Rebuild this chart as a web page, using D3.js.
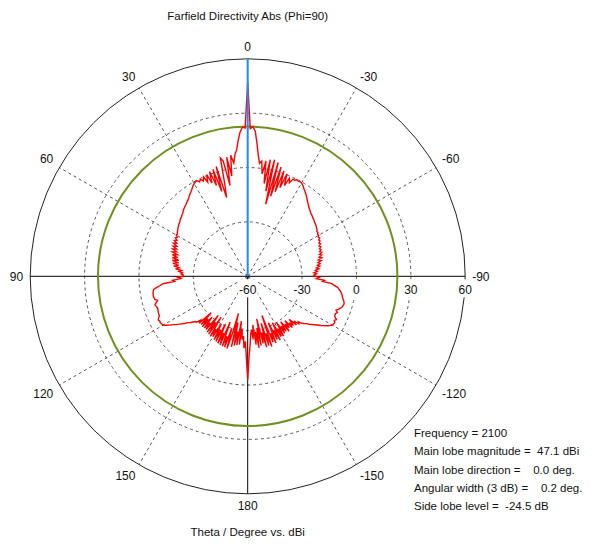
<!DOCTYPE html>
<html>
<head>
<meta charset="utf-8">
<script src="https://cdn.jsdelivr.net/npm/d3@7"></script>
<style>
  html, body { margin: 0; padding: 0; background: #fff; }
  svg { display: block; font-family: "Liberation Sans", Arial, sans-serif; }
  text { fill: #111; }
</style>
</head>
<body>
<svg id="chart" width="595" height="547"></svg>
<script>
// Farfield directivity cut (Phi = 90), theta in degrees, directivity in dBi
const thetaStart = -180;   // first sample angle
const thetaStep = 1;       // degrees between samples

// directivity [dBi], theta = -180 ... 180
const directivity = [
  // -180 .. -131
  -3, -16, -22, -28, -30.5, -25, -33, -22, -29, -20,
  -31, -21, -36, -22, -28, -19.5, -33, -20, -27, -19,
  -37, -21, -26, -20, -32, -21.5, -27, -20.5, -31, -22,
  -26.5, -21.5, -30, -22.5, -27, -23, -29, -22, -26.5, -23.5,
  -28, -22.5, -25.5, -23, -27, -22, -24.5, -21.5, -22.5, -20.5,
  // -130 .. -91
  -19.5, -18.5, -17, -15.8, -14.5, -13.1, -11.5, -10, -8.5, -7.2,
  -6.2, -5.8, -5.6, -6.4, -5.5, -6.8, -7.4, -7.3, -6.6, -7.8,
  -6.8, -5.9, -5.2, -4.9, -4.7, -5.0, -5.5, -6.2, -6.6, -7.0,
  -7.6, -8.3, -9.2, -10, -12, -13.5, -18.5, -17.5, -22, -20.5,
  // -90 .. -51
  -22.5, -23.5, -22, -23.4, -21.5, -22.5, -20.5, -21.8, -19.8, -21,
  -19.5, -20.5, -18.5, -20, -17.8, -19.2, -17.5, -18.6, -17, -18,
  -17, -17.6, -16.5, -17.2, -16, -16.6, -15.6, -16, -15, -15.5,
  -14.8, -15, -14.3, -14.5, -13.9, -13.6, -13.2, -13.0, -12.7, -12.6,
  // -50 .. -1
  -12.2, -11.8, -11.7, -11.3, -11.0, -10.8, -10.2, -9.8, -9.3, -8.8,
  -8.0, -7.4, -6.6, -5.8, -5.0, -4.2, -3.5, -2.8, -2.0, -1.2,
  -0.5, -0.3, -0.6, -0.2, -1.0, -0.8, -3.5, -1.2, -6, 0.5,
  -8, 1.5, -11, 3, -14, 5, -19, 6, -12, 5.5,
  -8, 4.5, -3, 4, 2.7, 7.0, 13.5, 20.0, 22.6, 21.5,
  // 0
  47.1,
  // 1 .. 50
  21.8, 22.4, 19.8, 15.2, 10, 7.5, 3, 7.4, -4, 6.8,
  -9, 5, 7, -8, -15, 3, -11, 2, -7, 1.5,
  -5, 0.5, -3.5, 0, -2, -0.5, -1.5, -0.2, -0.4, -1,
  -1.6, -2.4, -3.2, -3.9, -4.5, -5.2, -5.9, -6.5, -7, -7.4,
  -7.9, -8.2, -8.6, -9, -9.6, -10.1, -10.4, -10.9, -11.1, -11.4,
  // 51 .. 90
  -11.9, -12.2, -12.4, -12.9, -13.1, -13.5, -13.9, -14.2, -14.8, -14.5,
  -15.6, -14.8, -16.2, -15, -16.8, -15.2, -17.5, -15.6, -18, -16,
  -18.5, -16.3, -19.5, -16.8, -20, -17.2, -21, -17.5, -21.2, -18,
  -21.5, -18.8, -22, -20, -23.4, -22, -24, -23.2, -24.5, -24.2,
  // 91 .. 130
  -21.5, -23, -18.5, -19.5, -13, -11.5, -9.5, -7.6, -7.2, -7.0,
  -6.9, -6.8, -7.0, -7.2, -8.6, -7.6, -6.5, -6.8, -7.2, -7.3,
  -7.0, -6.8, -6.7, -6.7, -5.8, -5.1, -5.6, -5.4, -5.8, -6.2,
  -7.5, -9.2, -11, -12.5, -14, -15.5, -17, -18.5, -19.5, -20.8,
  // 131 .. 180
  -22, -22.2, -24.5, -22.8, -31.5, -23, -28, -22.5, -30, -22.8,
  -27, -22.7, -33, -22, -29, -21.5, -33, -21, -26, -21.5,
  -30, -20.5, -27, -20, -31, -19.5, -26, -19.2, -33, -19,
  -25, -18.8, -30, -18.6, -27, -38.9, -20, -34, -21, -29,
  -21.6, -35, -22, -31, -25, -27, -20.3, -24, -15.6, -3
];

const angleTicks = [0, 30, 60, 90, 120, 150, 180, -150, -120, -90, -60, -30];
const radialTicks = [-60, -30, 0, 30, 60];
const gridCircles = [-30, 0, 30];

const mainLobeMagnitude = 47.1;
const mainLobeDirection = 0.0;
const angularWidth = 0.2;
const sideLobeLevel = -24.5;
const frequency = 2100;

const infoLines = [
  "Frequency = " + frequency,
  "Main lobe magnitude =  " + mainLobeMagnitude.toFixed(1) + " dBi",
  "Main lobe direction =    " + mainLobeDirection.toFixed(1) + " deg.",
  "Angular width (3 dB) =    " + angularWidth.toFixed(1) + " deg.",
  "Side lobe level =  " + sideLobeLevel.toFixed(1) + " dB"
];

// ---------------------------------------------------------------
const svg = d3.select("#chart");
const cx = 247.7, cy = 276.3, R = 217.5;

const r = d3.scaleLinear().domain([-60, 60]).range([0, R]);
const rad = d => d * Math.PI / 180;
// theta grows counter-clockwise from the top; d3 radial angles grow clockwise
const ang = th => -rad(th);

const pattern = directivity.map((v, i) => ({ theta: thetaStart + i * thetaStep, value: v }));

const g = svg.append("g").attr("transform", `translate(${cx},${cy})`);

// dashed level circles
g.selectAll("circle.grid").data(gridCircles).enter().append("circle")
  .attr("class", "grid")
  .attr("r", d => r(d))
  .attr("fill", "none").attr("stroke", "#555").attr("stroke-width", 1)
  .attr("stroke-dasharray", "3,3");

// dashed spokes at 30, 60, 120, 150 ...
const spokes = angleTicks.filter(a => Math.abs(a) % 90 !== 0);
g.selectAll("line.spoke").data(spokes).enter().append("line")
  .attr("class", "spoke")
  .attr("x1", 0).attr("y1", 0)
  .attr("x2", d => -R * Math.sin(rad(d)))
  .attr("y2", d => -R * Math.cos(rad(d)))
  .attr("stroke", "#555").attr("stroke-width", 1)
  .attr("stroke-dasharray", "3,3");

// solid axes: 90 / -90 and 180
g.append("line").attr("x1", -R).attr("x2", R).attr("y1", 0).attr("y2", 0)
  .attr("stroke", "#000").attr("stroke-width", 1);
g.append("line").attr("x1", 0).attr("x2", 0).attr("y1", 0).attr("y2", R)
  .attr("stroke", "#000").attr("stroke-width", 1);

// outer circle
g.append("circle").attr("r", r(60)).attr("fill", "none")
  .attr("stroke", "#222").attr("stroke-width", 1);

// side lobe level circle
g.append("circle").attr("r", r(mainLobeMagnitude + sideLobeLevel))
  .attr("fill", "none").attr("stroke", "#6f901f").attr("stroke-width", 2);

// directivity pattern
const line = d3.lineRadial()
  .angle(d => ang(d.theta))
  .radius(d => r(d.value))
  .curve(d3.curveLinear);
g.append("path").datum(pattern)
  .attr("d", line)
  .attr("fill", "none").attr("stroke", "#ff0000")
  .attr("stroke-width", 1.4).attr("stroke-linejoin", "miter");

// main lobe direction
g.append("line").attr("x1", 0).attr("y1", 0)
  .attr("x2", -R * Math.sin(rad(mainLobeDirection)))
  .attr("y2", -R * Math.cos(rad(mainLobeDirection)))
  .attr("stroke", "#1a8cff").attr("stroke-width", 2);

// radial level labels along the horizontal axis, on white boxes
const rl = g.selectAll("g.rlab").data(radialTicks).enter().append("g")
  .attr("class", "rlab")
  .attr("transform", d => `translate(${r(d)},13)`);
rl.append("rect").attr("fill", "#fff");
rl.append("text").attr("text-anchor", "middle").attr("dy", "0.35em")
  .style("font-size", "12px").text(d => d);
rl.each(function () {
  const t = d3.select(this).select("text").node().getBBox();
  d3.select(this).select("rect")
    .attr("x", t.x - 1).attr("y", -10).attr("width", t.width + 2).attr("height", 18);
});

// angle labels outside the outer circle
const ag = g.selectAll("text.alab").data(angleTicks).enter().append("text")
  .attr("class", "alab")
  .attr("text-anchor", "middle").attr("dy", "0.35em")
  .style("font-size", "12px")
  .text(d => d);
ag.each(function (d) {
  const w = this.getComputedTextLength() / 2, h = 5;
  const ux = -Math.sin(rad(d)), uy = -Math.cos(rad(d));
  const sx = Math.abs(ux) < 0.01 ? 0 : Math.sign(ux);
  const sy = Math.abs(uy) < 0.01 ? 0 : Math.sign(uy);
  d3.select(this)
    .attr("x", (R + 7) * ux + sx * w)
    .attr("y", (R + 7) * uy + sy * h);
});

// title and axis caption
svg.append("text").attr("x", cx).attr("y", 20).attr("text-anchor", "middle")
  .style("font-size", "11.5px").text("Farfield Directivity Abs (Phi=90)");
svg.append("text").attr("x", cx).attr("y", 536).attr("text-anchor", "middle")
  .style("font-size", "11.5px").text("Theta / Degree vs. dBi");

// summary block
svg.append("g").selectAll("text").data(infoLines).enter().append("text")
  .attr("x", 414).attr("y", (d, i) => 437 + i * 18.3)
  .style("font-size", "11.5px").style("white-space", "pre")
  .text(d => d);
</script>
</body>
</html>
